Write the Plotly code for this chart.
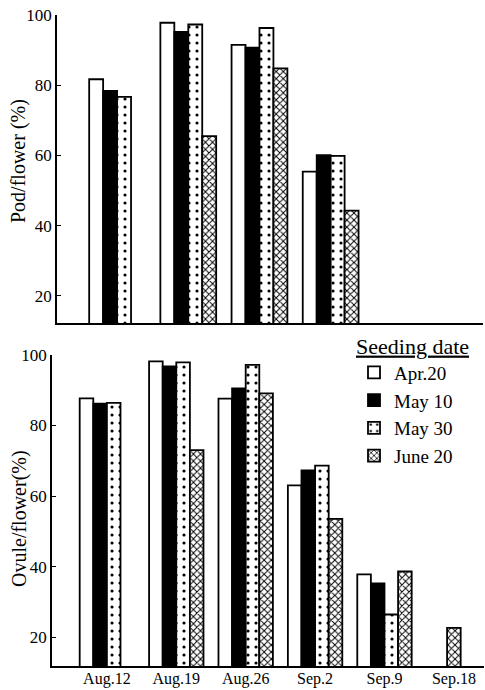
import plotly.graph_objects as go

dates = ["Aug.12", "Aug.19", "Aug.26", "Sep.2", "Sep.9", "Sep.18"]
series = ["Apr.20", "May 10", "May 30", "June 20"]

pod_apr20 = [81.7, 97.8, 91.5, 55.4, None, None]
pod_may10 = [78.4, 95.2, 90.7, 60.1, None, None]
pod_may30 = [76.7, 97.3, 96.3, 59.9, None, None]
pod_jun20 = [None, 65.5, 84.8, 44.3, None, None]

ovule_apr20 = [87.7, 98.2, 87.6, 63.0, 37.8, None]
ovule_may10 = [86.2, 96.8, 90.5, 67.3, 35.2, None]
ovule_may30 = [86.4, 97.9, 97.2, 68.6, 26.4, None]
ovule_jun20 = [None, 73.0, 89.1, 53.5, 38.6, None]
ovule_jun20_late = [22.6]   # Sep.18 (only June 20 sowing)

yticks = [20, 40, 60, 80, 100]

FONT = "Liberation Serif"
BW = 0.196

styles = {
    "Apr.20": dict(color="white", line=dict(color="black", width=1.8)),
    "May 10": dict(color="black", line=dict(color="black", width=1.8)),
    "May 30": dict(color="white", line=dict(color="black", width=1.8),
                   pattern=dict(shape=".", fgcolor="black", bgcolor="white", size=8, solidity=0.12)),
    "June 20": dict(color="white", line=dict(color="black", width=1.8),
                    pattern=dict(shape="x", fgcolor="black", bgcolor="white", size=5, solidity=0.35)),
}

fig = go.Figure()
top = [pod_apr20, pod_may10, pod_may30, pod_jun20]
bot = [ovule_apr20, ovule_may10, ovule_may30, ovule_jun20]
for i, s in enumerate(series):
    fig.add_trace(go.Bar(x=dates, y=top[i], name=s, marker=styles[s], xaxis="x", yaxis="y",
                         showlegend=False, legendgroup=s, offsetgroup=str(i)))
for i, s in enumerate(series):
    fig.add_trace(go.Bar(x=dates, y=bot[i], name=s, marker=styles[s], xaxis="x2", yaxis="y2",
                         showlegend=True, legendgroup=s, offsetgroup=str(i)))
fig.add_trace(go.Bar(x=["Sep.18"], y=ovule_jun20_late, name="June 20", marker=styles["June 20"],
                     xaxis="x2", yaxis="y2", showlegend=False, legendgroup="June 20",
                     width=BW, offset=-BW / 2))

W, H = 485, 690
axis_common = dict(showline=True, linecolor="black", linewidth=1.5, showgrid=False, zeroline=False,
                   automargin=False, tickfont=dict(family=FONT, size=17, color="black"))
fig.update_layout(
    template="none",
    width=W, height=H,
    margin=dict(l=0, r=0, t=0, b=0, pad=0, autoexpand=False),
    paper_bgcolor="white", plot_bgcolor="white",
    barmode="group", bargap=1 - 4 * BW, bargroupgap=0,
    font=dict(family=FONT, color="black"),
    xaxis=dict(**axis_common, domain=[57 / W, 483 / W], type="category", categoryarray=dates,
               range=[-0.844, 5.14], showticklabels=False, ticks="", anchor="y"),
    yaxis=dict(**axis_common, domain=[(H - 323) / H, (H - 15) / H], range=[12.3, 100],
               tickvals=yticks, ticks="inside", ticklen=4, tickcolor="black", tickwidth=1.2, anchor="x"),
    xaxis2=dict(**axis_common, domain=[52 / W, 484 / W], type="category", categoryarray=dates,
                range=[-0.791, 5.434], ticks="", ticklen=0, ticklabelstandoff=-3, anchor="y2"),
    yaxis2=dict(**axis_common, domain=[(H - 666) / H, (H - 355) / H], range=[11.8, 100],
                tickvals=yticks, ticks="inside", ticklen=4, tickcolor="black", tickwidth=1.2, anchor="x2"),
    legend=dict(x=354 / W, y=(H - 325) / H, xanchor="left", yanchor="top",
                bgcolor="rgba(0,0,0,0)", traceorder="grouped", tracegroupgap=0,
                font=dict(family=FONT, size=19, color="black"),
                title=dict(text="Seeding date", side="top",
                           font=dict(family=FONT, size=22, color="black", lineposition="under"))),
    annotations=[
        dict(text="Pod/flower (%)", xref="paper", yref="paper", x=19 / W, y=(H - 161) / H,
             xanchor="center", yanchor="middle",
             textangle=-90, showarrow=False, font=dict(family=FONT, size=20, color="black")),
        dict(text="Ovule/flower(%)", xref="paper", yref="paper", x=19 / W, y=(H - 519) / H,
             xanchor="center", yanchor="middle",
             textangle=-90, showarrow=False, font=dict(family=FONT, size=20, color="black")),
    ],
)
fig.update_layout(xaxis2_tickfont=dict(family=FONT, size=16, color="black"))

fig.write_html("out.html", config={"displayModeBar": False},
               post_script="document.body.style.margin='0';")
